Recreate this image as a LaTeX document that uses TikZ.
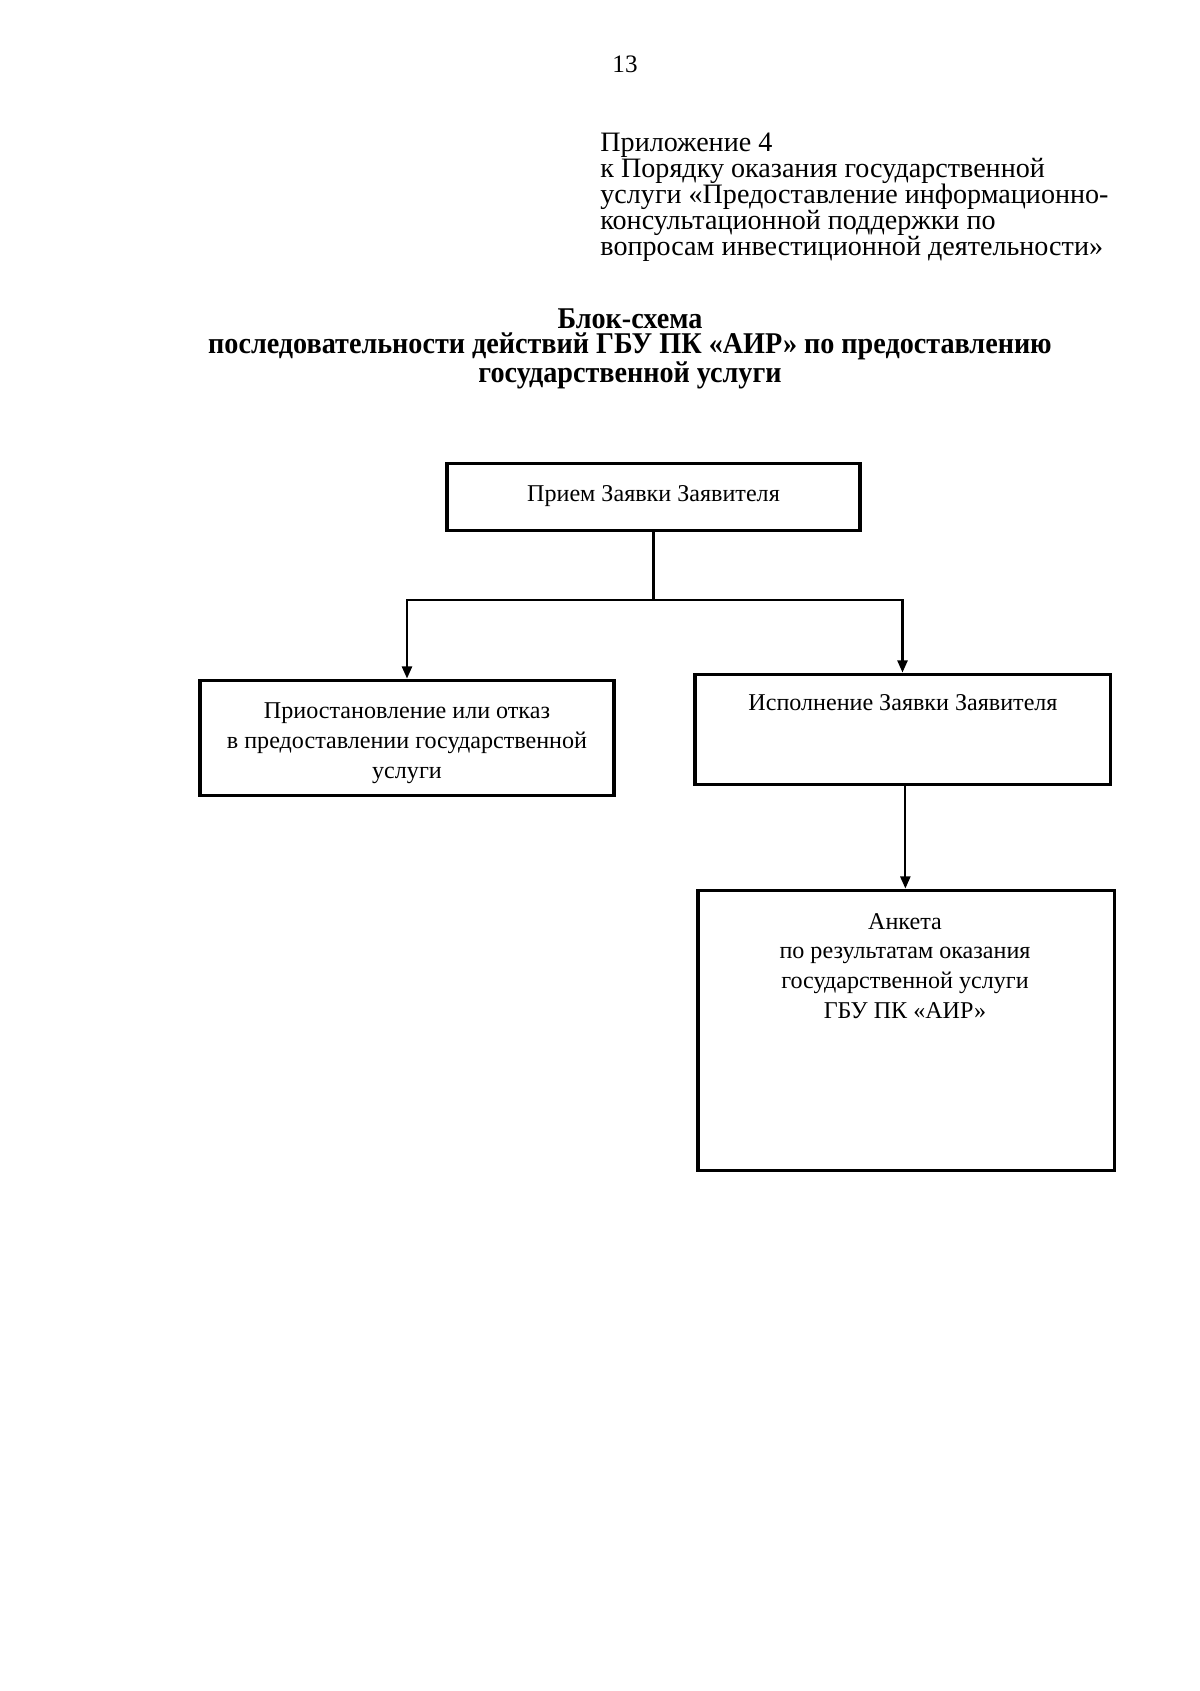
\documentclass[tikz,border=0pt]{standalone}
\usepackage{fontspec}
\setmainfont{Liberation Serif}
\newfontfamily\titlefont[FakeStretch=0.935]{Liberation Serif}
\usetikzlibrary{arrows.meta}
\begin{document}
\begin{tikzpicture}[x=0.175mm,y=-0.175mm,
  box/.style={draw, line width=1.5pt, rectangle, inner sep=0pt},
  conn/.style={line width=1.1pt},
  arr/.style={line width=1.1pt,-{Triangle[length=6pt,width=5pt]}},
  boxtext/.style={font=\fontsize{12}{14.8}\selectfont, align=center, inner sep=0pt}]
\useasboundingbox (0,0) rectangle (1200,1691);
\fill[white] (0,0) rectangle (1200,1691);

\node[font=\fontsize{12.5}{14}\selectfont, inner sep=0pt] (pnum) at (625,64) {13};

\node[font=\fontsize{14}{12.9}\selectfont, align=left, anchor=west, inner sep=0pt] (appx) at (600,197)
  {Приложение 4\\к Порядку оказания государственной\\услуги «Предоставление информационно-\\консультационной поддержки по\\вопросам инвестиционной деятельности»};

\node[font=\titlefont\bfseries\fontsize{15}{12.7}\selectfont, align=center, inner sep=0pt] (title) at (630,349)
  {Блок-схема\\последовательности действий ГБУ ПК «АИР» по предоставлению\\государственной услуги};

\node[box, minimum width={413*0.175mm}, minimum height={67*0.175mm}, boxtext] (top) at (653.5,496.5) {Прием Заявки Заявителя};
\node[box, minimum width={414*0.175mm}, minimum height={115*0.175mm}] (left) at (407,737.5) {};
\node[boxtext] (lefttxt) at (407,743)
  {Приостановление или отказ\\в предоставлении государственной\\услуги};
\node[box, minimum width={415*0.175mm}, minimum height={110*0.175mm}] (right) at (902.5,729) {};
\node[boxtext] (righttxt) at (903,703) {Исполнение Заявки Заявителя};
\node[box, minimum width={416*0.175mm}, minimum height={280*0.175mm}] (bottom) at (906,1030) {};
\node[boxtext] (bottomtxt) at (905,966)
  {Анкета\\по результатам оказания\\государственной услуги\\ГБУ ПК «АИР»};

\coordinate (j) at (653.5,600);
\draw[conn] (top.south) -- (j);
\draw[arr] (j) -| (left.north);
\draw[arr] (j) -| (right.north);
\draw[arr] ([xshift=0.5mm]right.south) -- ([xshift=0.5mm]right.south |- bottom.north);
\end{tikzpicture}
\end{document}
